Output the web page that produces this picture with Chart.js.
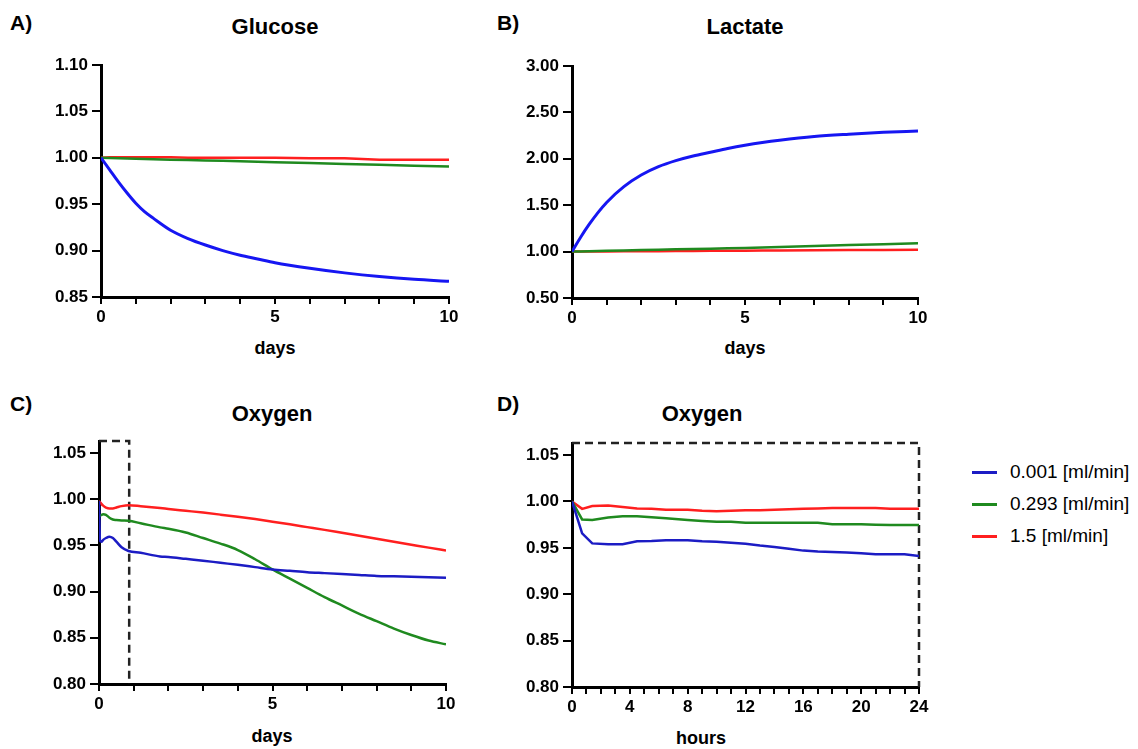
<!DOCTYPE html>
<html>
<head>
<meta charset="utf-8">
<script src="https://cdn.jsdelivr.net/npm/chart.js@4"></script>
<style>
  body { margin: 0; background: #fff; font-family: 'Liberation Sans', Arial, sans-serif; color: #000; }
  #page { position: relative; width: 1138px; height: 749px; overflow: hidden; }
  .box { position: absolute; }
  .t { position: absolute; transform: translate(-50%, -50%); font-weight: bold; white-space: nowrap; line-height: 1; }
  .title { font-size: 22px; }
  .axis { font-size: 18px; }
  .lab { position: absolute; transform: translateY(-50%); font-weight: bold; font-size: 21px; line-height: 1; }
  #legend { position: absolute; left: 972px; top: 456px; font-size: 19px; }
  #legend div { height: 32px; display: flex; align-items: center; white-space: nowrap; }
  #legend span { display: inline-block; width: 25px; height: 3px; margin-right: 13px; }
</style>
</head>
<body>
<div id="page">
  <div class="lab" style="left:10px; top:22px;">A)</div>
  <div class="t title" style="left:275px; top:27px;">Glucose</div>
  <div class="t axis" style="left:275px; top:348px;">days</div>

  <div class="lab" style="left:497px; top:22px;">B)</div>
  <div class="t title" style="left:745px; top:27px;">Lactate</div>
  <div class="t axis" style="left:745px; top:348px;">days</div>

  <div class="lab" style="left:10px; top:403px;">C)</div>
  <div class="t title" style="left:272px; top:414px;">Oxygen</div>
  <div class="t axis" style="left:272px; top:736px;">days</div>

  <div class="lab" style="left:497px; top:403px;">D)</div>
  <div class="t title" style="left:702px; top:414px;">Oxygen</div>
  <div class="t axis" style="left:701px; top:738px;">hours</div>

  <div class="box" style="left:0; top:45px; width:475px; height:300px;"><canvas id="chartA"></canvas></div>
  <div class="box" style="left:475px; top:45px; width:475px; height:300px;"><canvas id="chartB"></canvas></div>
  <div class="box" style="left:0; top:420px; width:475px; height:310px;"><canvas id="chartC"></canvas></div>
  <div class="box" style="left:475px; top:420px; width:475px; height:310px;"><canvas id="chartD"></canvas></div>
  <div id="legend"></div>
</div>
<script>
// A) Glucose
const gluDays = [0, 0.25, 0.5, 0.75, 1, 1.25, 1.5, 2, 2.5, 3, 3.5, 4, 4.5, 5, 6, 7, 8, 9, 10];
const gluBlue = [1.000, 0.987, 0.974, 0.962, 0.951, 0.942, 0.935, 0.922, 0.913, 0.906, 0.900, 0.895, 0.891, 0.887, 0.881, 0.876, 0.872, 0.869, 0.867];
const gluGreen = [1.000, 0.9998, 0.9995, 0.9993, 0.9990, 0.9988, 0.9985, 0.9980, 0.9976, 0.9972, 0.9967, 0.9962, 0.9957, 0.9952, 0.9944, 0.9934, 0.9925, 0.9915, 0.9907];
const gluRed = [1.000, 1.0005, 1.0005, 1.0005, 1.0005, 1.0005, 1.0005, 1.0005, 1.000, 1.000, 1.000, 1.000, 1.000, 1.000, 0.9995, 0.9995, 0.998, 0.998, 0.998];

// B) Lactate
const lacDays = [0, 0.25, 0.5, 0.75, 1, 1.5, 2, 2.5, 3, 3.5, 4, 4.5, 5, 5.5, 6, 7, 8, 9, 10];
const lacBlue = [1.00, 1.155, 1.295, 1.42, 1.53, 1.70, 1.825, 1.915, 1.98, 2.03, 2.07, 2.11, 2.145, 2.175, 2.20, 2.24, 2.265, 2.285, 2.30];
const lacGreen = [1.000, 1.002, 1.004, 1.006, 1.008, 1.012, 1.016, 1.020, 1.024, 1.028, 1.032, 1.036, 1.040, 1.045, 1.050, 1.060, 1.070, 1.080, 1.090];
const lacRed = [1.000, 1.000, 1.001, 1.001, 1.002, 1.003, 1.004, 1.005, 1.006, 1.007, 1.008, 1.009, 1.010, 1.011, 1.012, 1.014, 1.016, 1.018, 1.020];

// C) Oxygen over 10 days
const oxDays = [0, 0.03, 0.07, 0.12, 0.2, 0.3, 0.4, 0.5, 0.65, 0.85, 1.2, 1.76, 2, 2.5, 3, 3.5, 4, 4.5, 5, 5.5, 6, 6.5, 7, 7.5, 8, 8.5, 9, 9.5, 10];
const oxBlue = [0.998, 0.955, 0.954, 0.956, 0.958, 0.9594, 0.958, 0.954, 0.948, 0.944, 0.942, 0.938, 0.9375, 0.9355, 0.9335, 0.9312, 0.929, 0.9265, 0.924, 0.9225, 0.921, 0.920, 0.919, 0.918, 0.917, 0.9165, 0.916, 0.9155, 0.915];
const oxGreen = [0.981, 0.982, 0.983, 0.9837, 0.983, 0.980, 0.978, 0.9775, 0.977, 0.9767, 0.974, 0.9695, 0.968, 0.964, 0.958, 0.952, 0.945, 0.935, 0.924, 0.914, 0.904, 0.894, 0.885, 0.876, 0.868, 0.860, 0.853, 0.847, 0.843];
const oxRed = [0.998, 0.997, 0.995, 0.993, 0.991, 0.990, 0.990, 0.991, 0.9925, 0.9935, 0.9925, 0.9905, 0.9895, 0.9875, 0.9855, 0.9833, 0.981, 0.9785, 0.9757, 0.9728, 0.9698, 0.9668, 0.9636, 0.9604, 0.9572, 0.954, 0.9508, 0.9476, 0.9445];
const zoomBoxDaysX = [0, 0.87, 0.87];
const zoomBoxDaysY = [1.063, 1.063, 0.80];

// D) Oxygen over the first 24 hours
const hrs = [0, 0.7, 1.4, 2.5, 3.5, 4.5, 5.5, 6.5, 8, 9, 10, 11, 12, 13, 14, 15, 16, 17, 18, 19, 20, 21, 22, 23, 24];
const hrBlue = [1.000, 0.9656, 0.9548, 0.954, 0.954, 0.9572, 0.9575, 0.9583, 0.9583, 0.9572, 0.9565, 0.9554, 0.9545, 0.9525, 0.951, 0.949, 0.947, 0.946, 0.9455, 0.945, 0.9442, 0.9431, 0.943, 0.943, 0.9413];
const hrGreen = [1.000, 0.9806, 0.980, 0.9826, 0.984, 0.984, 0.983, 0.982, 0.980, 0.979, 0.978, 0.978, 0.977, 0.977, 0.977, 0.977, 0.977, 0.977, 0.9755, 0.9755, 0.9755, 0.975, 0.9745, 0.9745, 0.9745];
const hrRed = [1.000, 0.992, 0.995, 0.9955, 0.994, 0.9925, 0.992, 0.991, 0.991, 0.990, 0.9895, 0.990, 0.9905, 0.9905, 0.991, 0.9915, 0.992, 0.9925, 0.993, 0.993, 0.993, 0.993, 0.992, 0.992, 0.992];
const zoomBoxHrsX = [0, 24, 24];
const zoomBoxHrsY = [1.063, 1.063, 0.80];

const flows = ['0.001 [ml/min]', '0.293 [ml/min]', '1.5 [ml/min]'];

Chart.defaults.font.family = "'Liberation Sans', Arial, sans-serif";
Chart.defaults.color = '#000';

const BLUE = '#1616f2', BLUE2 = '#1c1cc4', GREEN = '#1f8a1f', RED = '#ff1f1f';

function pts(xs, ys) {
  return xs.map((x, i) => ({ x: x, y: ys[i] }));
}

function series(label, xs, ys, color, width, smooth) {
  return {
    label: label, data: pts(xs, ys),
    borderColor: color, backgroundColor: color, borderWidth: width,
    pointRadius: 0, fill: false,
    cubicInterpolationMode: smooth ? 'monotone' : 'default', tension: 0
  };
}

function zoomBox(xs, ys) {
  return {
    label: 'zoom', data: pts(xs, ys),
    borderColor: '#222', borderWidth: 2.5, borderDash: [8, 5],
    pointRadius: 0, fill: false, tension: 0, clip: false
  };
}

function isMultiple(v, n) {
  const r = Math.round(v);
  return Math.abs(v - r) < 1e-6 && r % n === 0;
}

function panel(id, datasets, xo, yo, pad) {
  return new Chart(document.getElementById(id), {
    type: 'line',
    data: { datasets: datasets },
    options: {
      responsive: true,
      maintainAspectRatio: false,
      animation: false,
      events: [],
      layout: { padding: pad },
      plugins: { legend: { display: false }, tooltip: { enabled: false } },
      scales: {
        x: {
          type: 'linear', min: xo.min, max: xo.max,
          afterFit: s => { s.height = 40; },
          ticks: {
            stepSize: xo.step, autoSkip: false, maxRotation: 0, padding: 3,
            font: { size: 17, weight: 'bold' },
            callback: v => (isMultiple(v, xo.every) ? String(Math.round(v)) : '')
          },
          grid: { drawOnChartArea: false, color: '#000', lineWidth: 2, tickLength: 7 },
          border: { color: '#000', width: 3 }
        },
        y: {
          min: yo.min, max: yo.max,
          afterFit: s => { s.width = yo.width; },
          ticks: {
            stepSize: yo.step, includeBounds: false, padding: 4,
            font: { size: 17, weight: 'bold' },
            callback: v => v.toFixed(2)
          },
          grid: { drawOnChartArea: false, color: '#000', lineWidth: 2, tickLength: 9 },
          border: { color: '#000', width: 3 }
        }
      }
    }
  });
}

panel('chartA', [
  series(flows[0], gluDays, gluBlue, BLUE, 3, true),
  series(flows[1], gluDays, gluGreen, GREEN, 2.5, false),
  series(flows[2], gluDays, gluRed, RED, 2.5, false)
], { min: 0, max: 10, step: 1, every: 5 }, { min: 0.85, max: 1.10, step: 0.05, width: 101 },
   { left: 0, right: 26, top: 20, bottom: 8 });

panel('chartB', [
  series(flows[0], lacDays, lacBlue, BLUE, 3, true),
  series(flows[1], lacDays, lacGreen, GREEN, 2.5, false),
  series(flows[2], lacDays, lacRed, RED, 2.5, false)
], { min: 0, max: 10, step: 1, every: 5 }, { min: 0.5, max: 3.0, step: 0.5, width: 97 },
   { left: 0, right: 32, top: 21, bottom: 7 });

panel('chartC', [
  series(flows[0], oxDays, oxBlue, BLUE2, 2.5, true),
  series(flows[1], oxDays, oxGreen, GREEN, 2.5, true),
  series(flows[2], oxDays, oxRed, RED, 2.5, true),
  zoomBox(zoomBoxDaysX, zoomBoxDaysY)
], { min: 0, max: 10, step: 1, every: 5 }, { min: 0.80, max: 1.063, step: 0.05, width: 99 },
   { left: 0, right: 29, top: 21, bottom: 6 });

const chartD = panel('chartD', [
  series(flows[0], hrs, hrBlue, BLUE2, 2.5, false),
  series(flows[1], hrs, hrGreen, GREEN, 2.5, false),
  series(flows[2], hrs, hrRed, RED, 2.5, false),
  zoomBox(zoomBoxHrsX, zoomBoxHrsY)
], { min: 0, max: 24, step: 1, every: 4 }, { min: 0.80, max: 1.063, step: 0.05, width: 97 },
   { left: 0, right: 31, top: 23, bottom: 3 });

// legend built from panel D's series
const legend = document.getElementById('legend');
chartD.data.datasets.filter(d => d.label !== 'zoom').forEach(d => {
  const row = document.createElement('div');
  const swatch = document.createElement('span');
  swatch.style.background = d.borderColor;
  row.appendChild(swatch);
  row.appendChild(document.createTextNode(d.label));
  legend.appendChild(row);
});
</script>
</body>
</html>
